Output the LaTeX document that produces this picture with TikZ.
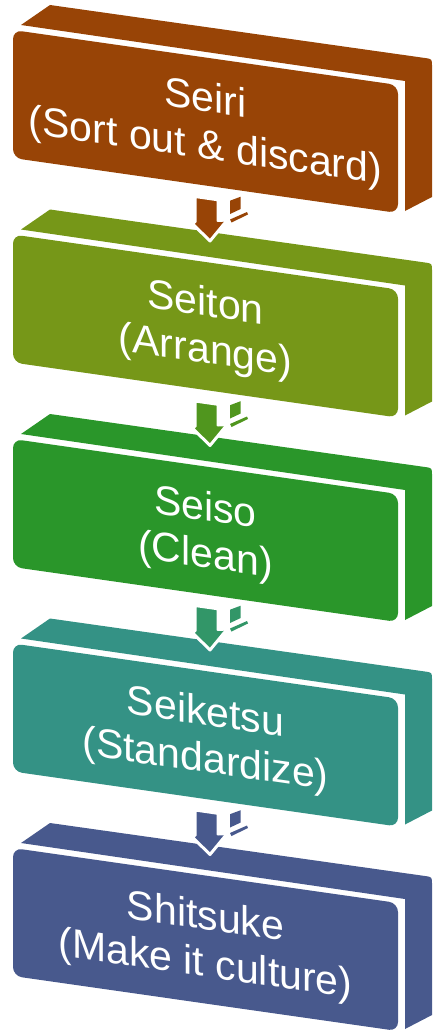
\documentclass[tikz,border=0pt]{standalone}
\usepackage{fontspec}
\setmainfont{Liberation Sans}
\definecolor{boxA}{RGB}{152,68,6}
\definecolor{boxB}{RGB}{118,151,24}
\definecolor{boxC}{RGB}{42,150,42}
\definecolor{boxD}{RGB}{52,146,133}
\definecolor{boxE}{RGB}{72,89,141}
\definecolor{arrB}{RGB}{80,150,30}
\definecolor{arrC}{RGB}{50,150,104}
\begin{document}
\begin{tikzpicture}[x=1pt,y=-1pt,
  facetext/.style={text=white, align=center, inner sep=0pt,
    font=\fontsize{41}{47}\selectfont, transform shape},
  arrowfront/.style={draw=white, line width=3pt, line join=round}]
\useasboundingbox (0,0) rectangle (432,1033);

% five slanted 3D steps
\foreach \i/\col/\txt in {
  0/boxA/{Seiri\\(Sort out \& discard)},
  1/boxB/{Seiton\\(Arrange)},
  2/boxC/{Seiso\\(Clean)},
  3/boxD/{Seiketsu\\(Standardize)},
  4/boxE/{Shitsuke\\(Make it culture)}} {
  \begin{scope}[shift={(0,204.5*\i)}]
    % top and right side faces
    \fill[\col] (21,25) -- (50,5) -- (425,58)
      .. controls (432,59) .. (432,66)
      -- (432,197) -- (405,211) -- (405,81) -- cycle;
    % front face and its label
    \begin{scope}[shift={(13,30)}, yslant=-0.143]
      \fill[\col, rounded corners=9] (0,0) rectangle (385,128);
      \node[facetext] (step\i) at (192.5,67) {\txt};
    \end{scope}
  \end{scope}
}

% block arrows between the steps
\foreach \i/\col in {0/boxA,1/arrB,2/arrC,3/boxE} {
  \begin{scope}[shift={(0,204.5*\i)}]
    \fill[\col] (230,200.7) -- (240.7,196.7) -- (240.7,209) -- (230,214) -- cycle;
    \fill[\col] (230,219.5) -- (247,212) -- (248,214.5) -- (231.5,222.5) -- cycle;
    \filldraw[fill=\col, arrowfront] (195,196.5) -- (218,199.8) -- (218,220.5)
      -- (227.3,220) -- (210,241) -- (190.7,222) -- (195,222) -- cycle;
  \end{scope}
}
\end{tikzpicture}
\end{document}
